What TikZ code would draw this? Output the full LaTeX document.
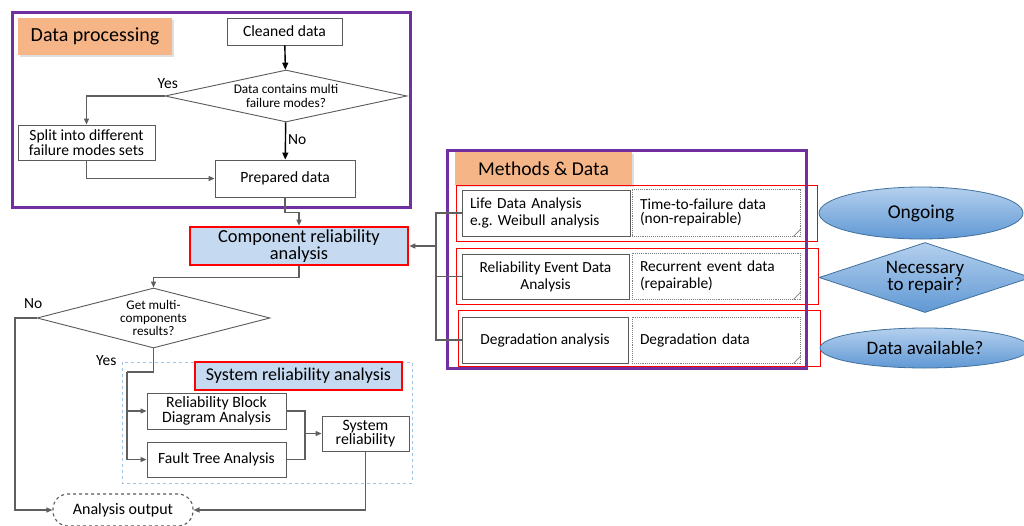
\documentclass[tikz,border=0pt]{standalone}
\usepackage{fontspec}
\setmainfont{Carlito}
\usetikzlibrary{shapes.geometric,arrows.meta,shadows}
\newcommand{\fsz}[1]{\fontsize{#1}{\dimexpr #1pt*110/100\relax}\selectfont}
\newcommand{\fszt}[1]{\fontsize{#1}{\dimexpr #1pt*92/100\relax}\selectfont}
\newcommand{\fszm}[1]{\fontsize{#1}{\dimexpr #1pt*100/100\relax}\selectfont}
\definecolor{purp}{RGB}{112,48,160}
\definecolor{orng}{RGB}{246,181,135}
\definecolor{lblue}{RGB}{197,217,241}
\definecolor{dblue}{RGB}{157,195,230}
\definecolor{lgray}{RGB}{95,95,95}
\definecolor{bgray}{RGB}{90,90,90}
\definecolor{shtop}{RGB}{180,208,238}
\definecolor{shbot}{RGB}{96,152,212}
\definecolor{shdraw}{RGB}{65,113,156}
\tikzset{
  box/.style={draw=bgray, line width=0.9pt, fill=white, align=center, inner sep=0pt, font=\fsz{15.6}},
  dbox/.style={draw=gray, densely dotted, line width=0.9pt, fill=white, align=left, inner xsep=8pt, inner ysep=0pt, text width=152pt, font=\fsz{15.4}},
  redbox/.style={draw=red, line width=2.6pt, fill=lblue, align=center, inner sep=0pt},
  dec/.style={draw=bgray, line width=0.9pt, fill=white, diamond, inner sep=0pt, align=center},
  conn/.style={draw=lgray, line width=1.2pt},
  arr/.style={conn, -{Triangle[length=6pt,width=5pt]}},
  barr/.style={draw=black, line width=1.4pt, -{Triangle[length=7pt,width=6pt]}},
  lbl/.style={font=\fsz{15.5}, inner sep=0pt},
  tag/.style={fill=orng, inner sep=0pt, drop shadow={opacity=0.25, shadow xshift=2pt, shadow yshift=-2pt}},
  blueshape/.style={top color=shtop, bottom color=shbot, draw=shdraw, line width=0.8pt, inner sep=0pt, align=center, font=\fsz{19.5}},
}
\begin{document}
\begin{tikzpicture}[x=1pt,y=-1pt]
\useasboundingbox (0,0) rectangle (1024,525);
\fill[white] (0,0) rectangle (1024,525);

% ---------- Data processing ----------
\node[tag, minimum width=154pt, minimum height=37pt, font=\fsz{20}] (dptag) at (95,36.5) {Data processing};
\node[box, minimum width=115pt, minimum height=27pt] (clean) at (284.5,31.5) {Cleaned data};
\node[dec, shape aspect=4.65, minimum width=242pt, minimum height=52pt, font=\fsz{13.3}] (d1) at (286,96) {Data contains multi\\failure modes?};
\node[box, minimum width=137pt, minimum height=35pt, font=\fszt{15.6}] (split) at (86.5,142.5) {Split into different\\[1pt]failure modes sets};
\node[box, minimum width=140pt, minimum height=37pt] (prep) at (285,178.5) {Prepared data};
\node[lbl, anchor=south east] (yes1) at (178,89) {Yes};
\node[lbl, anchor=west] (no1) at (288,140) {No};
\draw[purp, line width=3pt] (12,12) rectangle (410,207);

\draw[barr] (clean) -- (d1);
\draw[barr] (d1) -- (prep);
\draw[arr] (d1.west) -| (split.north);
\draw[arr] (split.south) |- (prep.west);

% ---------- Component ----------
\node[redbox, minimum width=218pt, minimum height=38pt, font=\fszt{18.4}] (comp) at (299,246) {Component reliability\\analysis};
\draw[arr] (prep.south) -- ++(0,15) -| (comp.north);

\node[dec, shape aspect=3.9, minimum width=233pt, minimum height=60pt, font=\fszm{13.2}] (d2) at (153.5,318) {Get multi-\\components\\results?};
\draw[arr] (comp.south) -- ++(0,11) -| (d2.north);
\node[lbl, anchor=south west] (no2) at (24,309) {No};
\node[lbl, anchor=south west] (yes2) at (96,366) {Yes};

% system reliability group
\draw[dblue, dashed, line width=0.9pt] (122,362) rectangle (412,483);
\node[redbox, minimum width=207pt, minimum height=28pt, font=\fsz{18}] (sra) at (298.5,376) {System reliability analysis};
\node[box, minimum width=139pt, minimum height=36pt, font=\fszt{15.8}] (rbd) at (216.5,411) {Reliability Block\\Diagram Analysis};
\node[box, minimum width=139pt, minimum height=35pt] (fta) at (216.5,459.5) {Fault Tree Analysis};
\node[box, minimum width=87pt, minimum height=35pt, font=\fszt{15.8}] (sys) at (365.5,433.5) {System\\reliability};
\node[draw=bgray, dashed, line width=1.1pt, rounded corners=15pt, minimum width=140pt, minimum height=32pt, inner sep=0pt, font=\fsz{16}, fill=white] (ao) at (123,510) {Analysis output};

\coordinate (noC) at (15,318);
\coordinate (yesC) at (127,372);
\coordinate (joinC) at (305,433.5);
\draw[arr] (d2.west) -- (noC) |- (ao.west);
\draw[conn] (d2.south) |- (yesC);
\draw[arr] (yesC) |- (rbd.west);
\draw[arr] (yesC) |- (fta.west);
\draw[conn] (rbd.east) -| (joinC);
\draw[conn] (fta.east) -| (joinC);
\draw[arr] (joinC) -- (sys.west);
\draw[arr] (sys.south) |- (ao.east);

% ---------- Methods & Data ----------
\node[tag, minimum width=177pt, minimum height=33pt, font=\fsz{19.6}, drop shadow={opacity=0}] (mdtag) at (543.5,168.5) {Methods \& Data};
\node[box, minimum width=168pt, minimum height=46pt, align=left, text width=152pt, font=\fsz{15.4}] (m1) at (546,213) {Life Data Analysis\\e.g.\ Weibull analysis};
\node[box, minimum width=167pt, minimum height=45pt, font=\fsz{15.4}] (m2) at (545.5,276.5) {Reliability Event Data\\Analysis};
\node[box, minimum width=166pt, minimum height=46pt, font=\fsz{15.4}] (m3) at (545,340) {Degradation analysis};
\node[dbox, minimum height=47pt, font=\fszt{15.4}] (da1) at (716,212.5) {Time-to-failure data\\(non-repairable)\\[4pt]};
\node[dbox, minimum height=46pt] (da2) at (716,276) {Recurrent event data\\(repairable)\\[2pt]};
\node[dbox, minimum height=46pt] (da3) at (716,340) {Degradation data\\[6pt]};
\foreach \d in {da1,da2,da3}{
  \draw[gray, line width=0.8pt] ([xshift=-7pt]\d.south east) -- ([yshift=7pt]\d.south east);
}
\draw[red, line width=1pt] (456,185) rectangle (817,241);
\draw[red, line width=1pt] (456,248) rectangle (818,304);
\draw[red, line width=1pt] (458,310) rectangle (820,366);
\draw[purp, line width=3pt] (447,150) rectangle (806,368);

\coordinate (busT) at (436,213);
\coordinate (busM) at (436,246);
\coordinate (busB) at (436,340);
\draw[conn] (m1.west) -- (busT) -- (busB) -- (m3.west);
\draw[conn] (m2.west) -- (busT |- m2.west);
\draw[arr] (busM) -- (comp.east);

% ---------- right shapes ----------
\node[blueshape, ellipse, minimum width=204pt, minimum height=52pt] (ong) at (921,213) {Ongoing};
\node[blueshape, diamond, shape aspect=3, minimum width=212pt, minimum height=70pt, font=\fszt{19}] (rep) at (925,277.5) {Necessary\\to repair?};
\node[blueshape, ellipse, minimum width=210pt, minimum height=40pt, font=\fsz{19}] (avail) at (925,348) {Data available?};
\end{tikzpicture}
\end{document}
